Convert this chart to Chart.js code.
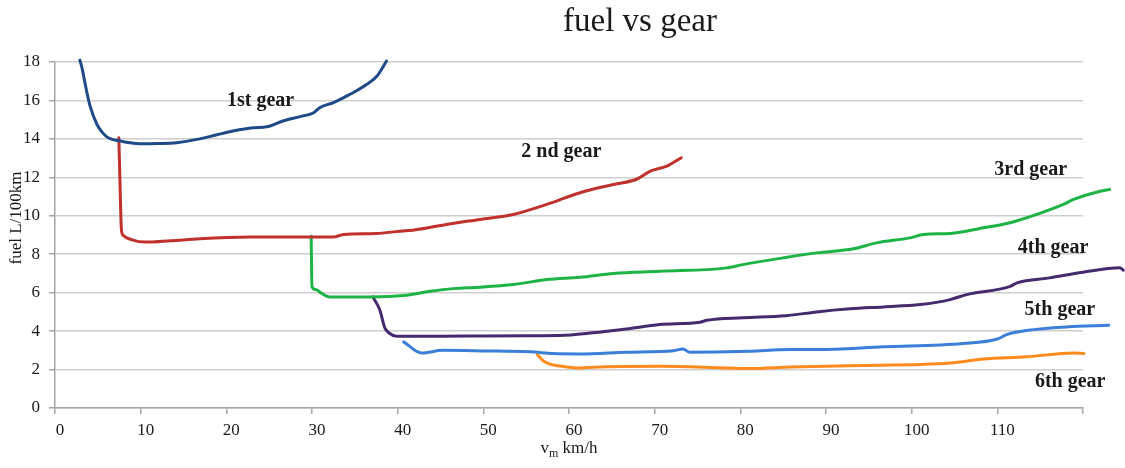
<!DOCTYPE html>
<html>
<head>
<meta charset="utf-8">
<title>fuel vs gear</title>
<script src="https://cdn.jsdelivr.net/npm/chart.js@4"></script>
<style>
  html, body { margin: 0; padding: 0; background: #fff; }
</style>
</head>
<body>
<canvas id="chart" width="1125" height="468"></canvas>
<script>
// speed (km/h) and fuel (L/100km), one pair per gear
var gear1Speed = [2.9, 3.2, 3.5, 4.1, 4.9, 5.6, 6.2, 7.6, 9.9, 12.0, 14.2, 16.9, 18.8, 20.8, 23.1, 24.7, 26.6, 28.6, 30.2, 30.9, 32.5, 33.7, 34.8, 36.4, 37.6, 38.7];
var gear1Fuel  = [18.1, 17.6, 16.9, 15.7, 14.75, 14.3, 14.06, 13.89, 13.75, 13.76, 13.8, 14.0, 14.2, 14.41, 14.58, 14.63, 14.93, 15.16, 15.36, 15.62, 15.89, 16.15, 16.4, 16.84, 17.27, 18.05];

var gear2Speed = [7.45, 7.6, 7.75, 7.95, 9.0, 10.5, 13.5, 16.9, 22.8, 29.8, 32.5, 33.7, 37.5, 40.3, 41.8, 45.7, 49.6, 53.5, 57.4, 61.3, 65.2, 67.9, 69.5, 71.5, 73.1];
var gear2Fuel  = [14.06, 11.5, 9.3, 8.99, 8.75, 8.63, 8.7, 8.8, 8.89, 8.9, 8.89, 9.03, 9.08, 9.2, 9.25, 9.55, 9.81, 10.07, 10.59, 11.2, 11.63, 11.9, 12.32, 12.6, 13.02];

var gear3Speed = [29.9, 30.0, 30.5, 31.0, 32.1, 36.8, 40.7, 43.8, 46.5, 49.6, 53.5, 57.4, 61.3, 65.2, 70.6, 78.4, 80.3, 85.0, 88.9, 93.2, 95.9, 99.8, 101.4, 104.5, 108.4, 111.5, 114.6, 117.7, 118.9, 122.0, 123.1];
var gear3Fuel  = [8.94, 6.3, 6.15, 6.0, 5.78, 5.78, 5.85, 6.07, 6.21, 6.28, 6.42, 6.68, 6.8, 7.0, 7.11, 7.29, 7.46, 7.81, 8.07, 8.28, 8.59, 8.85, 9.03, 9.08, 9.38, 9.64, 10.07, 10.59, 10.85, 11.28, 11.37];

var gear4Speed = [37.1, 37.9, 38.5, 39.0, 39.9, 45.0, 50.0, 55.0, 58.9, 62.8, 66.7, 70.6, 75.3, 76.1, 80.3, 85.3, 88.9, 92.8, 96.7, 101.0, 104.5, 106.4, 111.5, 112.3, 116.1, 120.0, 124.3, 124.7];
var gear4Fuel  = [5.78, 5.12, 4.17, 3.9, 3.73, 3.73, 3.75, 3.76, 3.77, 3.91, 4.11, 4.34, 4.46, 4.56, 4.69, 4.8, 5.0, 5.16, 5.26, 5.38, 5.64, 5.9, 6.33, 6.51, 6.77, 7.06, 7.29, 7.17];

var gear5Speed = [40.7, 42.8, 45.3, 50.0, 55.4, 58.2, 61.3, 66.7, 72.2, 73.3, 74.1, 78.4, 81.1, 85.8, 88.9, 96.7, 106.0, 110.0, 111.1, 113.4, 118.1, 123.0];
var gear5Fuel  = [3.44, 2.86, 3.0, 2.97, 2.92, 2.83, 2.81, 2.9, 2.98, 3.07, 2.9, 2.92, 2.95, 3.04, 3.04, 3.18, 3.35, 3.59, 3.82, 4.03, 4.22, 4.3];

var gear6Speed = [56.3, 57.0, 57.6, 59.5, 61.3, 62.8, 70.6, 78.4, 81.1, 85.8, 92.8, 104.5, 108.4, 113.4, 118.9, 120.1];
var gear6Fuel  = [2.78, 2.45, 2.31, 2.15, 2.08, 2.12, 2.17, 2.08, 2.05, 2.13, 2.2, 2.34, 2.55, 2.66, 2.86, 2.83];

var gearNames   = ['1st gear', '2 nd gear', '3rd gear', '4th gear', '5th gear', '6th gear'];
var gearColors  = ['#1f4a87', '#c0302c', '#1db345', '#452a6e', '#3b7fd9', '#ff8a1e'];
// where each gear name sits, in axis units (speed, fuel)
var labelSpeed  = [24.0, 59.1, 113.9, 116.5, 117.3, 118.5];
var labelFuel   = [16.0, 13.35, 12.4, 8.35, 5.12, 1.37];

var xTickMax = 120;
var xStep = 10;
var yTickMax = 18;
var yStep = 2;

var serif = '"Liberation Serif", "Times New Roman", serif';

function toPoints(xs, ys){
    var pts = [];
    for (var i = 0; i < xs.length; i++) {
        pts.push({x: xs[i], y: ys[i]});
    }
    return pts;
}

var allSpeed = [gear1Speed, gear2Speed, gear3Speed, gear4Speed, gear5Speed, gear6Speed];
var allFuel  = [gear1Fuel, gear2Fuel, gear3Fuel, gear4Fuel, gear5Fuel, gear6Fuel];

var datasets = [];
for (var g = 0; g < allSpeed.length; g++) {
    datasets.push({
        label: gearNames[g],
        data: toPoints(allSpeed[g], allFuel[g]),
        borderColor: gearColors[g],
        backgroundColor: gearColors[g],
        borderWidth: 3,
        pointRadius: 0,
        cubicInterpolationMode: 'monotone',
        borderJoinStyle: 'round',
        borderCapStyle: 'round',
        clip: false
    });
}

// title, axis titles and the gear names drawn on top
var textPlugin = {
    id: 'texts',
    afterDraw: function(chart){
        var ctx = chart.ctx;
        var xs = chart.scales.x, ys = chart.scales.y;
        ctx.save();
        ctx.fillStyle = '#1a1a1a';
        ctx.textAlign = 'center';
        ctx.textBaseline = 'middle';

        ctx.font = '33px ' + serif;
        ctx.fillText('fuel vs gear', 640, 22);

        // y title
        ctx.save();
        ctx.translate(17, 218);
        ctx.rotate(-Math.PI / 2);
        ctx.font = '17px ' + serif;
        ctx.fillText('fuel L/100km', 0, 0);
        ctx.restore();

        // x title with subscript m
        ctx.textAlign = 'left';
        ctx.textBaseline = 'alphabetic';
        var big = '17px ' + serif, small = '12px ' + serif;
        ctx.font = big;
        var wV = ctx.measureText('v').width;
        var wRest = ctx.measureText(' km/h').width;
        ctx.font = small;
        var wM = ctx.measureText('m').width;
        var left = (xs.left + xs.right) / 2 - (wV + wM + wRest) / 2;
        var base = 453;
        ctx.font = big;
        ctx.fillText('v', left, base);
        ctx.font = small;
        ctx.fillText('m', left + wV, base + 4);
        ctx.font = big;
        ctx.fillText(' km/h', left + wV + wM, base);

        // gear names
        ctx.textAlign = 'center';
        ctx.textBaseline = 'middle';
        ctx.font = 'bold 20px ' + serif;
        for (var i = 0; i < gearNames.length; i++) {
            ctx.fillText(gearNames[i], xs.getPixelForValue(labelSpeed[i]), ys.getPixelForValue(labelFuel[i]));
        }
        ctx.restore();
    }
};

var chart = new Chart(document.getElementById('chart'), {
    type: 'line',
    data: { datasets: datasets },
    options: {
        responsive: false,
        animation: false,
        events: [],
        layout: { padding: { top: 62, right: 42, left: 0, bottom: 0 } },
        plugins: {
            legend: { display: false },
            title: { display: false },
            tooltip: { enabled: false }
        },
        scales: {
            x: {
                type: 'linear',
                // range set here rather than min/max so the curves running past 120 are still drawn
                afterDataLimits: function(s){ s.min = 0; s.max = xTickMax; },
                afterFit: function(s){ s.height = 60; },
                ticks: {
                    stepSize: xStep,
                    color: '#1a1a1a',
                    font: { family: serif, size: 17 },
                    padding: 6,
                    labelOffset: 5,
                    maxRotation: 0,
                    callback: function(v){ return v === xTickMax ? '' : v; }
                },
                grid: {
                    drawOnChartArea: false,
                    drawTicks: true,
                    tickLength: 6,
                    tickColor: '#a6a6a6',
                    color: '#a6a6a6',
                    lineWidth: 1.5
                },
                border: { display: true, color: '#a6a6a6', width: 1.5 }
            },
            y: {
                min: 0,
                max: yTickMax,
                afterFit: function(s){ s.width = 55; },
                ticks: {
                    stepSize: yStep,
                    color: '#1a1a1a',
                    font: { family: serif, size: 17 },
                    padding: 9
                },
                grid: {
                    color: '#cfcfcf',
                    lineWidth: 1.5,
                    tickLength: 6,
                    tickColor: '#a6a6a6'
                },
                border: { display: true, color: '#a6a6a6', width: 1.5 }
            }
        }
    },
    plugins: [textPlugin]
});
</script>
</body>
</html>
